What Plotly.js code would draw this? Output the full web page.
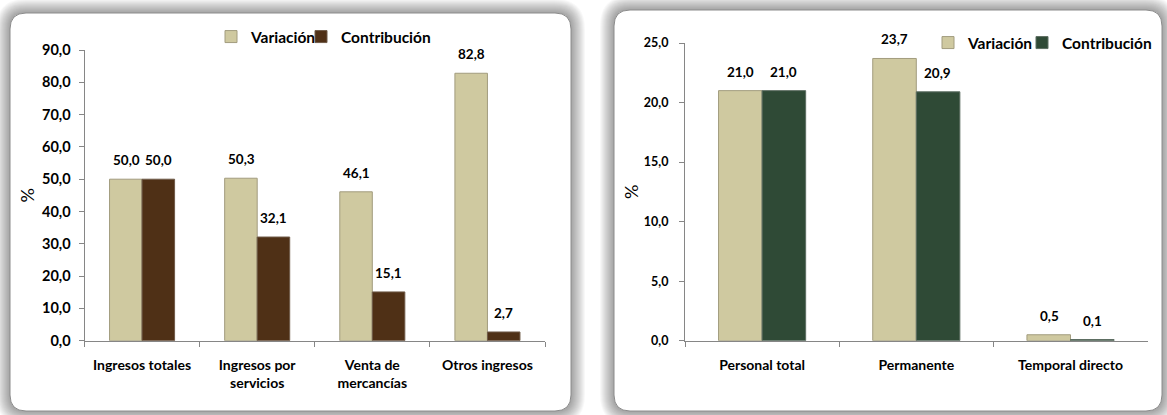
<!DOCTYPE html>
<html><head><meta charset="utf-8">
<script src="https://cdn.plot.ly/plotly-3.0.1.min.js"></script>
<style>html,body{margin:0;padding:0;background:#fff}#chart{width:1167px;height:415px}</style>
</head><body><div id="chart"></div>
<script>
// ---- data ----
const seriesNames = ['Variación', 'Contribución'];
const incomeCategories = ['Ingresos totales', 'Ingresos por<br>servicios', 'Venta de<br>mercancías', 'Otros ingresos'];
const incomeVariacion = [50.0, 50.3, 46.1, 82.8];
const incomeContribucion = [50.0, 32.1, 15.1, 2.7];
const staffCategories = ['Personal total', 'Permanente', 'Temporal directo'];
const staffVariacion = [21.0, 23.7, 0.5];
const staffContribucion = [21.0, 20.9, 0.1];
const yTitle = '%';

// ---- helpers (pixel -> paper) ----
const W = 1167, H = 415;
const X = p => p / W;
const Y = p => 1 - p / H;
const FONT = 'Lato, "Open Sans", sans-serif';
const AXC = '#868686';
const TAN = '#cfc9a0', TANL = '#a29c7e';
const BROWN = '#4f3016', BROWNL = '#6f5a48';
const GREEN = '#2f4a36', GREENL = '#5d6e62';

function rr(x0, y0, x1, y1, r) {
  return `M${X(x0 + r)},${Y(y0)} L${X(x1 - r)},${Y(y0)} Q${X(x1)},${Y(y0)} ${X(x1)},${Y(y0 + r)} ` +
    `L${X(x1)},${Y(y1 - r)} Q${X(x1)},${Y(y1)} ${X(x1 - r)},${Y(y1)} L${X(x0 + r)},${Y(y1)} ` +
    `Q${X(x0)},${Y(y1)} ${X(x0)},${Y(y1 - r)} L${X(x0)},${Y(y0 + r)} Q${X(x0)},${Y(y0)} ${X(x0 + r)},${Y(y0)} Z`;
}

const panels = [[10, 13, 571, 411], [614, 10, 1162, 411]];
const shapes = [];
panels.forEach(p => {
  for (let d = 14; d >= 1; d--) {
    shapes.push({type: 'path', xref: 'paper', yref: 'paper', layer: 'below',
      path: rr(p[0] - d, p[1] - d, p[2] + d, p[3] + d, 16 + d),
      fillcolor: 'rgba(0,0,0,0.026)', line: {width: 0}});
  }
});
panels.forEach(p => {
  shapes.push({type: 'path', xref: 'paper', yref: 'paper', layer: 'below',
    path: rr(p[0], p[1], p[2], p[3], 16), fillcolor: '#ffffff',
    line: {color: '#8c8c8c', width: 1}});
});

const fmt = v => v.toFixed(1).replace('.', ',');

function labels(cats, vals, xr, yr, shift) {
  return cats.map((c, i) => ({
    x: c, y: vals[i], xref: xr, yref: yr, text: fmt(vals[i]), showarrow: false,
    xshift: shift, yshift: 19, yanchor: 'middle',
    font: {family: FONT, size: 13.5, color: '#000', weight: 'bold'}
  }));
}

const annotations = [].concat(
  labels(incomeCategories, incomeVariacion, 'x', 'y', -16),
  labels(incomeCategories, incomeContribucion, 'x', 'y', 16),
  labels(staffCategories, staffVariacion, 'x2', 'y2', -21.5),
  labels(staffCategories, staffContribucion, 'x2', 'y2', 21.5)
);

const traces = [
  {type: 'bar', x: incomeCategories, y: incomeVariacion, name: seriesNames[0], xaxis: 'x', yaxis: 'y',
   legend: 'legend', marker: {color: TAN, line: {color: TANL, width: 1}}, hoverinfo: 'skip'},
  {type: 'bar', x: incomeCategories, y: incomeContribucion, name: seriesNames[1], xaxis: 'x', yaxis: 'y',
   legend: 'legend2', marker: {color: BROWN, line: {color: BROWNL, width: 1}}, hoverinfo: 'skip'},
  {type: 'bar', x: staffCategories, y: staffVariacion, name: seriesNames[0], xaxis: 'x2', yaxis: 'y2',
   legend: 'legend3', marker: {color: TAN, line: {color: TANL, width: 1}}, hoverinfo: 'skip'},
  {type: 'bar', x: staffCategories, y: staffContribucion, name: seriesNames[1], xaxis: 'x2', yaxis: 'y2',
   legend: 'legend4', marker: {color: GREEN, line: {color: GREENL, width: 1}}, hoverinfo: 'skip'}
];

const xa = (dom, anchor) => ({
  domain: dom, anchor: anchor, type: 'category', showline: true, linecolor: AXC, linewidth: 1,
  ticks: 'outside', tickson: 'boundaries', ticklen: 5, tickcolor: AXC, showgrid: false,
  ticklabelstandoff: 11,
  tickfont: {family: FONT, size: 14, color: '#000', weight: 'bold'}, fixedrange: true, automargin: false
});
const ya = (dom, anchor, range, dtick, fs, lstand, standoff) => ({
  domain: dom, anchor: anchor, range: range, dtick: dtick, tick0: 0, tickformat: '.1f',
  showline: true, linecolor: AXC, linewidth: 1, ticks: 'outside', ticklen: 5, tickcolor: AXC,
  showgrid: false, zeroline: false, fixedrange: true, automargin: false,
  ticklabelstandoff: lstand,
  tickfont: {family: FONT, size: fs, color: '#000', weight: 'bold'},
  title: {text: yTitle, standoff: standoff, font: {family: FONT, size: 18, color: '#000'}}
});

const leg = (xp, yp) => ({
  x: X(xp), xanchor: 'left', y: Y(yp), yanchor: 'middle', orientation: 'h',
  font: {family: FONT, size: 15.5, color: '#000', weight: 'bold'},
  bgcolor: 'rgba(0,0,0,0)', itemclick: false, itemdoubleclick: false
});

const layout = {
  width: W, height: H, margin: {l: 0, r: 0, t: 0, b: 0},
  paper_bgcolor: '#ffffff', plot_bgcolor: 'rgba(0,0,0,0)',
  separators: ',.', barmode: 'group', bargap: 0.435, bargroupgap: 0,
  xaxis: xa([X(84.5), X(545)], 'y'),
  yaxis: ya([Y(340.7), Y(50)], 'x', [0, 90], 10, 14.5, 5, 2),
  xaxis2: xa([X(685), X(1147.6)], 'y2'),
  yaxis2: ya([Y(340.7), Y(43)], 'x2', [0, 25], 5, 12.5, 8, 0),
  legend: leg(211, 37),
  legend2: leg(301, 37),
  legend3: leg(928, 43),
  legend4: leg(1022, 43),
  shapes: shapes,
  annotations: annotations,
  showlegend: true
};

Plotly.newPlot('chart', traces, layout, {displayModeBar: false, staticPlot: true});
</script>
</body></html>
